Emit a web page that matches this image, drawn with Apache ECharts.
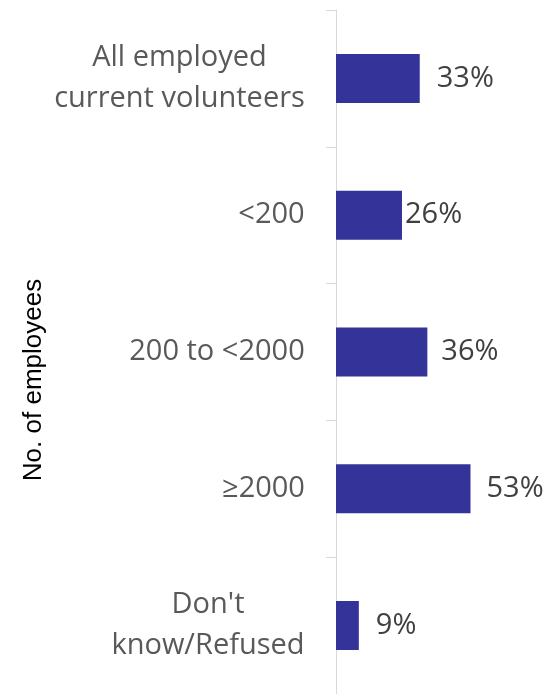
<!DOCTYPE html>
<html>
<head>
<meta charset="utf-8">
<script src="https://cdn.jsdelivr.net/npm/echarts@6/dist/echarts.min.js"></script>
<style>html,body{margin:0;padding:0;background:#fff;}#c{width:555px;height:694px;}</style>
</head>
<body>
<div id="c"></div>
<script>
const categories = ["All employed\ncurrent volunteers", "<200", "200 to <2000", "≥2000", "Don't\nknow/Refused"];
const values = [33, 26, 36, 53, 9];
const axisTitle = "No. of employees";

const labelGap = [17, 3, 14, 16, 17];

const FONT = 'Open Sans';
const FS = 29;
const LH = 41;
const ctx = document.createElement('canvas').getContext('2d');
ctx.font = FS + 'px "' + FONT + '"';
const rich = {};
categories.forEach((c, i) => {
  const w = Math.max(...c.split('\n').map(l => ctx.measureText(l).width));
  rich['l' + i] = {
    width: Math.ceil(w), align: 'center', fontFamily: FONT, fontSize: FS,
    color: '#595959', lineHeight: LH
  };
});

const chart = echarts.init(document.getElementById('c'), null, {renderer: 'canvas'});
chart.setOption({
  animation: false,
  backgroundColor: '#ffffff',
  grid: {left: 336, right: 16, top: 10, bottom: -3, containLabel: false},
  xAxis: {
    type: 'value', min: 0, max: 80, show: false
  },
  yAxis: {
    type: 'category',
    inverse: true,
    data: categories,
    axisLine: {show: true, lineStyle: {color: '#d9d9d9', width: 1}},
    axisTick: {show: true, length: 10, lineStyle: {color: '#d9d9d9'}},
    axisLabel: {
      margin: 31, fontFamily: FONT, fontSize: FS, color: '#595959',
      lineHeight: LH, align: 'right',
      formatter: (val, idx) => val.split('\n').map(l => '{l' + idx + '|' + l + '}').join('\n'),
      rich: rich
    },
    splitLine: {show: false}
  },
  series: [{
    type: 'bar',
    barWidth: 49,
    itemStyle: {color: '#333399'},
    data: values.map((v, i) => ({
      value: v,
      label: {distance: labelGap[i]}
    })),
    label: {
      show: true, position: 'right', formatter: '{c}%',
      fontFamily: FONT, fontSize: FS, color: '#404040'
    }
  }],
  graphic: [{
    type: 'text',
    x: 34, y: 380,
    rotation: Math.PI / 2,
    style: {
      text: axisTitle, fontFamily: 'Liberation Sans', fontSize: 26,
      fill: '#000000', align: 'center', verticalAlign: 'middle'
    }
  }]
});
</script>
</body>
</html>
